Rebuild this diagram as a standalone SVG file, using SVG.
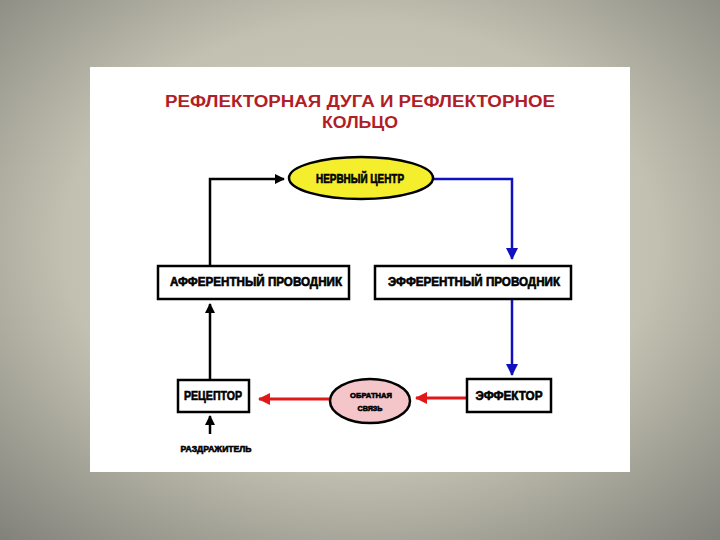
<svg xmlns="http://www.w3.org/2000/svg" width="720" height="540" viewBox="0 0 720 540">
<defs>
<radialGradient id="bg" cx="50%" cy="45%" r="75%">
<stop offset="0" stop-color="#d6d4c4"/>
<stop offset="0.55" stop-color="#c2c0b0"/>
<stop offset="1" stop-color="#80807a"/>
</radialGradient>
<marker id="ak" markerWidth="10" markerHeight="10" refX="9" refY="5" orient="auto" markerUnits="userSpaceOnUse"><path d="M0,0 L10,5 L0,10 z" fill="#000"/></marker>
<marker id="ab" markerWidth="12" markerHeight="12" refX="11" refY="6" orient="auto" markerUnits="userSpaceOnUse"><path d="M0,0 L12,6 L0,12 z" fill="#1010c0"/></marker>
<marker id="ar" markerWidth="12" markerHeight="12" refX="11" refY="6" orient="auto" markerUnits="userSpaceOnUse"><path d="M0,0 L12,6 L0,12 z" fill="#e01818"/></marker>
</defs>
<style>
.box{fill:#fff;stroke:#000;stroke-width:2.5}
.lbl{font-family:"Liberation Sans",Arial,sans-serif;font-weight:bold;fill:#000;stroke:#000;stroke-width:0.6;text-anchor:middle;dominant-baseline:central}
.ttl{font-family:"Liberation Sans",Arial,sans-serif;font-weight:bold;fill:#b01e28;text-anchor:middle;font-size:16px}
.k{fill:none;stroke:#000;stroke-width:2.5;marker-end:url(#ak)}
.b{fill:none;stroke:#1010c0;stroke-width:2.5;marker-end:url(#ab)}
.r{fill:none;stroke:#e01818;stroke-width:3;marker-end:url(#ar)}
</style>
<rect width="720" height="540" fill="url(#bg)"/>
<rect x="90" y="67" width="540" height="405" fill="#fff"/>
<g id="title">
<text class="ttl" x="360" y="107" textLength="390" lengthAdjust="spacingAndGlyphs">РЕФЛЕКТОРНАЯ  ДУГА  И  РЕФЛЕКТОРНОЕ</text>
<text class="ttl" x="360" y="128" textLength="76" lengthAdjust="spacingAndGlyphs">КОЛЬЦО</text>
</g>
<g id="connectors">
<path class="k" d="M210,266 V179 H284"/>
<path class="b" d="M434,179 H512 V259"/>
<path class="b" d="M512,300 V375"/>
<path class="r" d="M466,398 H416"/>
<path class="r" d="M330,399 H259"/>
<path class="k" d="M210,379 V304"/>
<path class="k" d="M210,434 V416"/>
</g>
<g id="nerve-center">
<ellipse cx="361" cy="178" rx="72" ry="21" fill="#f4ee2c" stroke="#000" stroke-width="2.5"/>
<text class="lbl" x="360" y="179" font-size="12" textLength="88" lengthAdjust="spacingAndGlyphs">НЕРВНЫЙ ЦЕНТР</text>
</g>
<g id="afferent">
<rect class="box" x="158" y="266" width="191" height="33"/>
<text class="lbl" x="256" y="282" font-size="12" textLength="172" lengthAdjust="spacingAndGlyphs">АФФЕРЕНТНЫЙ ПРОВОДНИК</text>
</g>
<g id="efferent">
<rect class="box" x="375" y="266" width="196" height="33"/>
<text class="lbl" x="474" y="282" font-size="12" textLength="172" lengthAdjust="spacingAndGlyphs">ЭФФЕРЕНТНЫЙ ПРОВОДНИК</text>
</g>
<g id="effector">
<rect class="box" x="467" y="379" width="84" height="33"/>
<text class="lbl" x="509" y="396" font-size="12" textLength="67" lengthAdjust="spacingAndGlyphs">ЭФФЕКТОР</text>
</g>
<g id="feedback">
<ellipse cx="370" cy="401" rx="40" ry="22" fill="#f4c6ca" stroke="#000" stroke-width="2.5"/>
<text class="lbl" x="371" y="395" font-size="8" stroke-width="0.3" textLength="42" lengthAdjust="spacingAndGlyphs">ОБРАТНАЯ</text>
<text class="lbl" x="370" y="408" font-size="8" stroke-width="0.3" textLength="25" lengthAdjust="spacingAndGlyphs">СВЯЗЬ</text>
</g>
<g id="receptor">
<rect class="box" x="178" y="380" width="71" height="32"/>
<text class="lbl" x="213" y="396" font-size="12" textLength="58" lengthAdjust="spacingAndGlyphs">РЕЦЕПТОР</text>
</g>
<g id="stimulus">
<text class="lbl" x="216" y="449" font-size="9" stroke-width="0.4" textLength="71" lengthAdjust="spacingAndGlyphs">РАЗДРАЖИТЕЛЬ</text>
</g>
</svg>
